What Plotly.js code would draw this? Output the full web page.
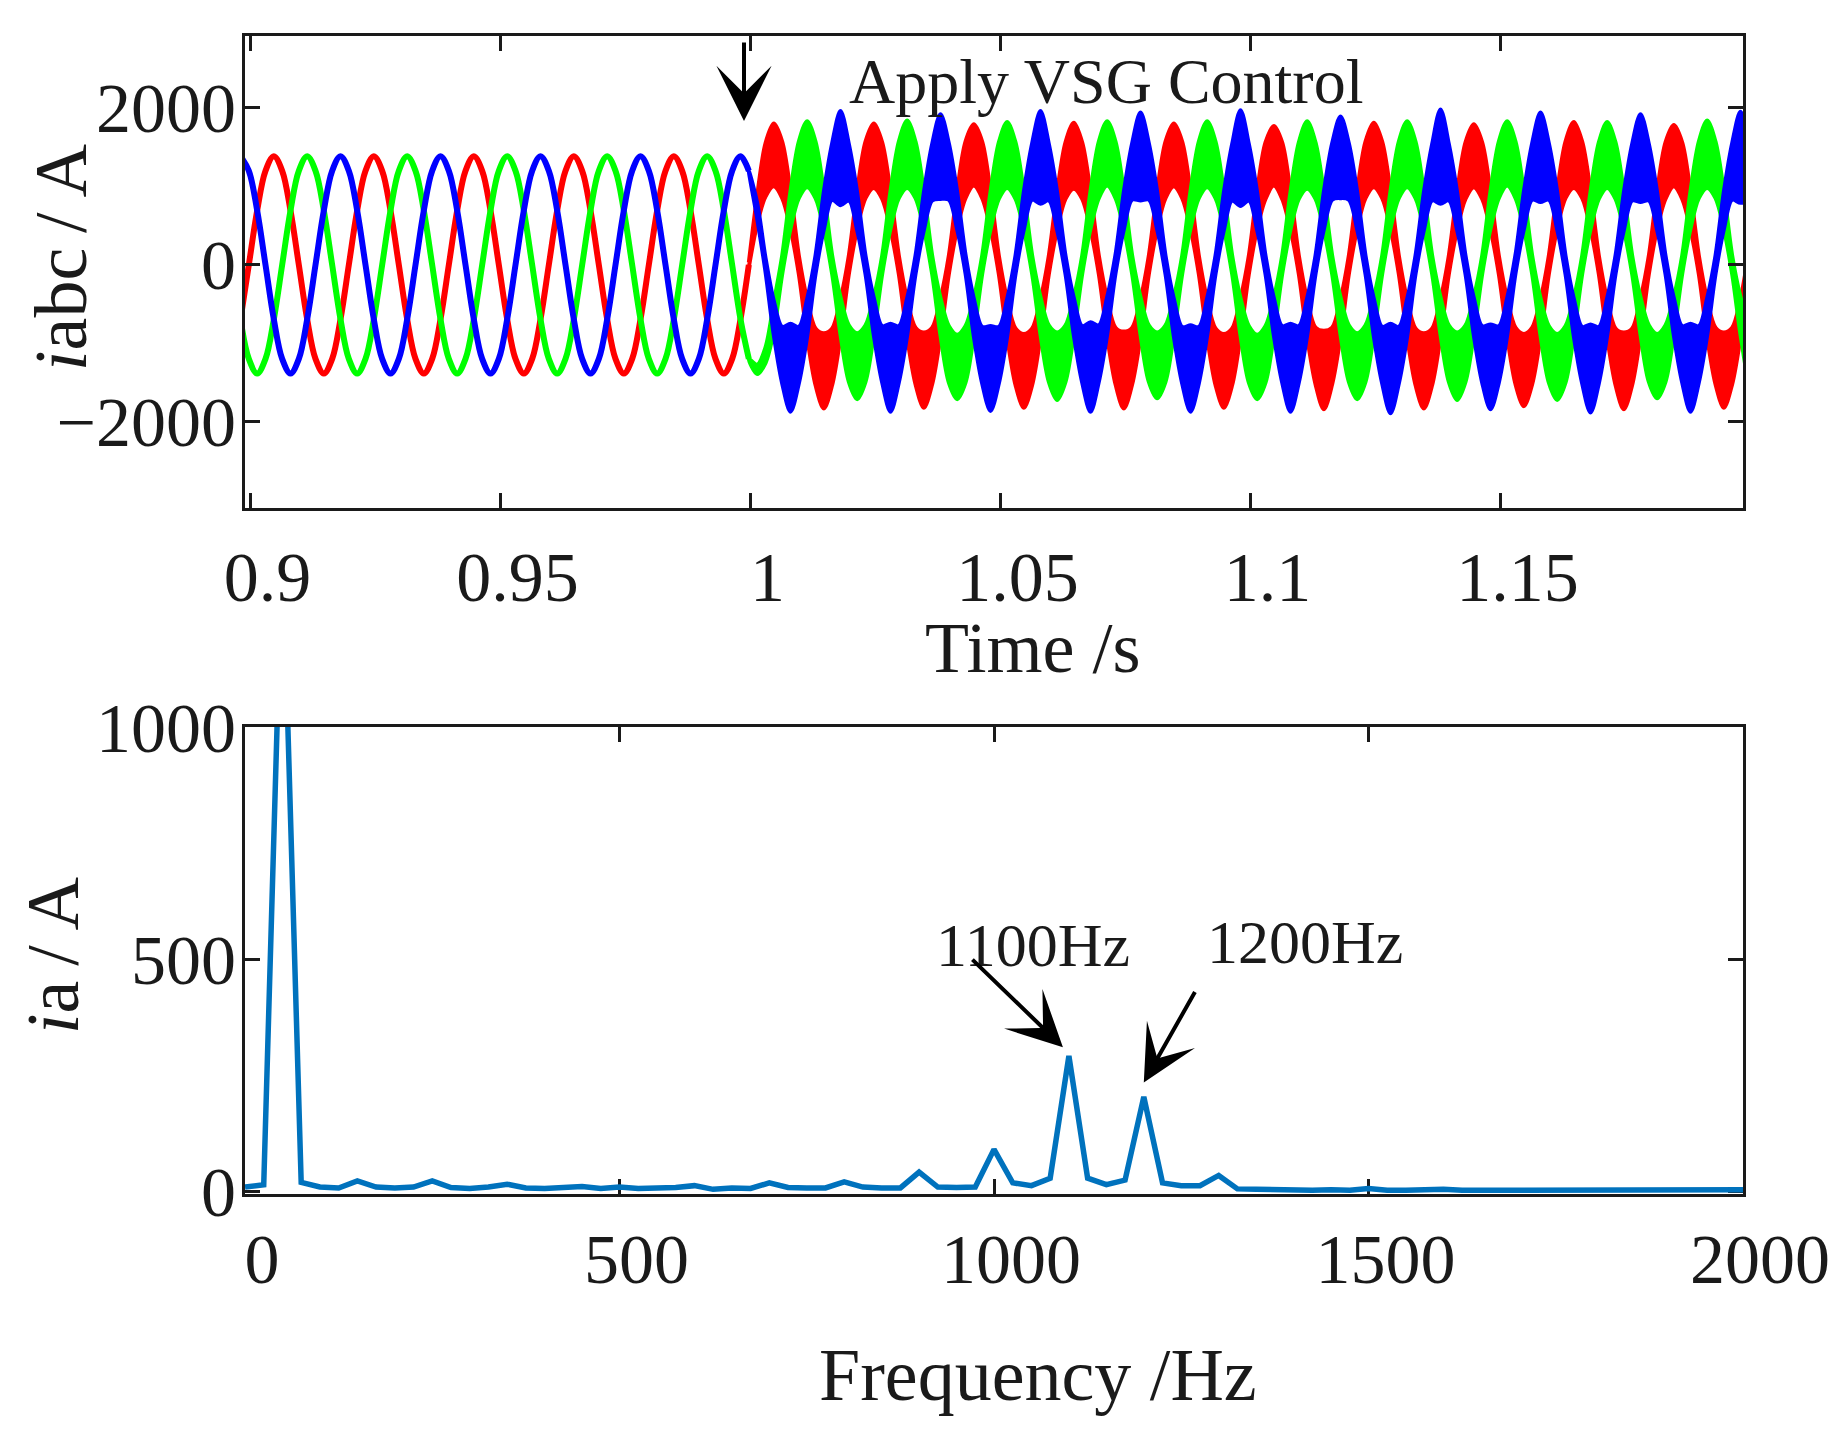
<!DOCTYPE html>
<html>
<head>
<meta charset="utf-8">
<script src="https://cdn.plot.ly/plotly-3.0.1.min.js"></script>
<style>
  html, body { margin: 0; padding: 0; background: #fff; }
  #chart { width: 1846px; height: 1433px; }
</style>
</head>
<body>
<div id="chart"></div>
<script>
// ---- time-domain samples: t = T_START + k * T_STEP (30 deg of 50 Hz per step) ----
const T_START = 0.898;
const T_STEP = 1 / 600;
const PRE_FIRST = 0;    // k index of first pre-control sample
const POST_FIRST = 61;  // k index where VSG control takes over (t ~ 1.0 s)

// before 1.0 s: clean three-phase currents (A)
const redPre = [
  -692, 0, 692, 1198, 1383, 1198, 692, 0, -692, -1198, -1383, -1198,
  -692, 0, 692, 1198, 1383, 1198, 692, 0, -692, -1198, -1383, -1198,
  -692, 0, 692, 1198, 1383, 1198, 692, 0, -692, -1198, -1383, -1198,
  -692, 0, 692, 1198, 1383, 1198, 692, 0, -692, -1198, -1383, -1198,
  -692, 0, 692, 1198, 1383, 1198, 692, 0, -692, -1198, -1383, -1198,
  -692, 0
];
const greenPre = [
  -692, -1198, -1383, -1198, -692, 0, 692, 1198, 1383, 1198, 692, 0,
  -692, -1198, -1383, -1198, -692, 0, 692, 1198, 1383, 1198, 692, 0,
  -692, -1198, -1383, -1198, -692, 0, 692, 1198, 1383, 1198, 692, 0,
  -692, -1198, -1383, -1198, -692, 0, 692, 1198, 1383, 1198, 692, 0,
  -692, -1198, -1383, -1198, -692, 0, 692, 1198, 1383, 1198, 692, 0,
  -692, -1198
];
const bluePre = [
  1383, 1198, 692, 0, -692, -1198, -1383, -1198, -692, 0, 692, 1198,
  1383, 1198, 692, 0, -692, -1198, -1383, -1198, -692, 0, 692, 1198,
  1383, 1198, 692, 0, -692, -1198, -1383, -1198, -692, 0, 692, 1198,
  1383, 1198, 692, 0, -692, -1198, -1383, -1198, -692, 0, 692, 1198,
  1383, 1198, 692, 0, -692, -1198, -1383, -1198, -692, 0, 692, 1198,
  1383, 1198
];

// after 1.0 s: fundamental (centre of the band) and half-height of the switching ripple (A)
const redPost = [
  0, 700, 1210, 1400, 1210, 700, 0, -680, -1170, -1350, -1170,
  -680, 0, 700, 1210, 1390, 1200, 690, 0, -680, -1160, -1340, -1160,
  -670, 0, 700, 1210, 1400, 1210, 700, 0, -680, -1170, -1350, -1170,
  -680, 0, 690, 1200, 1390, 1200, 690, 0, -670, -1160, -1340, -1160,
  -680, 0, 700, 1210, 1400, 1210, 700, 0, -680, -1170, -1350, -1170,
  -670, 0, 700, 1200, 1390, 1200, 690, 0, -680, -1160, -1340, -1160,
  -680, 0, 700, 1210, 1400, 1210, 700, 0, -680, -1170, -1350, -1170,
  -680, 0, 690, 1200, 1390, 1200, 690, 0, -670, -1160, -1340, -1160,
  -680, 0, 700, 1210, 1400, 1210, 700, 0, -680, -1170, -1350, -1170,
  -670, 0, 700, 1200, 1390, 1200, 690, 0, -680, -1160, -1340, -1160,
  -680, 0
];
const redRipple = [
  30, 180, 340, 400, 360, 240, 120, 240, 360, 480, 360,
  240, 120, 240, 360, 410, 360, 240, 120, 240, 360, 480, 360,
  240, 120, 240, 360, 390, 360, 240, 120, 240, 360, 470, 360,
  240, 120, 240, 360, 420, 360, 240, 120, 240, 360, 490, 360,
  240, 120, 240, 360, 400, 360, 240, 120, 240, 360, 470, 360,
  240, 120, 240, 360, 380, 360, 240, 120, 240, 360, 500, 360,
  240, 120, 240, 360, 410, 360, 240, 120, 240, 360, 480, 360,
  240, 120, 240, 360, 400, 360, 240, 120, 240, 360, 460, 360,
  240, 120, 240, 360, 420, 360, 240, 120, 240, 360, 490, 360,
  240, 120, 240, 360, 390, 360, 240, 120, 240, 360, 480, 360,
  240, 120
];
const greenPost = [
  -1198, -1330, -1150, -660, 0, 700, 1210, 1410, 1210, 700, 0,
  -650, -1130, -1290, -1130, -650, 0, 700, 1210, 1410, 1210, 700, 0,
  -660, -1140, -1300, -1140, -660, 0, 690, 1200, 1400, 1200, 690, 0,
  -650, -1130, -1290, -1130, -650, 0, 700, 1210, 1420, 1210, 700, 0,
  -650, -1130, -1280, -1130, -650, 0, 700, 1210, 1410, 1210, 700, 0,
  -660, -1140, -1300, -1140, -660, 0, 690, 1200, 1400, 1200, 690, 0,
  -650, -1130, -1290, -1130, -650, 0, 700, 1210, 1410, 1210, 700, 0,
  -650, -1130, -1290, -1130, -650, 0, 700, 1210, 1420, 1210, 700, 0,
  -660, -1140, -1300, -1140, -660, 0, 690, 1200, 1400, 1200, 690, 0,
  -650, -1130, -1290, -1130, -650, 0, 700, 1210, 1410, 1210, 700, 0,
  -650, -1130
];
const greenRipple = [
  0, 60, 100, 180, 120, 240, 360, 420, 360, 240, 120,
  240, 360, 420, 360, 240, 120, 240, 360, 430, 360, 240, 120,
  240, 360, 410, 360, 240, 120, 240, 360, 420, 360, 240, 120,
  240, 360, 430, 360, 240, 120, 240, 360, 410, 360, 240, 120,
  240, 360, 420, 360, 240, 120, 240, 360, 420, 360, 240, 120,
  240, 360, 410, 360, 240, 120, 240, 360, 430, 360, 240, 120,
  240, 360, 420, 360, 240, 120, 240, 360, 420, 360, 240, 120,
  240, 360, 430, 360, 240, 120, 240, 360, 410, 360, 240, 120,
  240, 360, 420, 360, 240, 120, 240, 360, 420, 360, 240, 120,
  240, 360, 410, 360, 240, 120, 240, 360, 430, 360, 240, 120,
  240, 360
];
const bluePost = [
  1198, 690, 0, -680, -1150, -1310, -1150, -670, 0, 690, 1190,
  1360, 1180, 680, 0, -660, -1140, -1310, -1140, -660, 0, 680, 1180,
  1380, 1190, 690, 10, -670, -1150, -1320, -1150, -670, 0, 690, 1190,
  1370, 1180, 680, 0, -660, -1140, -1300, -1130, -650, 10, 690, 1190,
  1380, 1190, 690, 0, -670, -1150, -1320, -1150, -660, 0, 680, 1180,
  1360, 1180, 680, 0, -660, -1140, -1310, -1140, -660, 0, 690, 1190,
  1370, 1190, 690, 0, -670, -1150, -1320, -1150, -670, 0, 680, 1180,
  1380, 1180, 680, 0, -660, -1140, -1300, -1140, -660, 10, 690, 1190,
  1370, 1190, 690, 0, -670, -1150, -1320, -1150, -660, 0, 680, 1180,
  1360, 1180, 680, 0, -660, -1140, -1310, -1140, -660, 0, 690, 1190,
  1370, 1190
];
const blueRipple = [
  0, 100, 90, 220, 360, 560, 360, 240, 120, 240, 360,
  600, 360, 240, 120, 240, 360, 560, 360, 240, 120, 240, 360,
  540, 360, 240, 120, 240, 360, 540, 360, 240, 120, 240, 360,
  590, 360, 240, 120, 240, 360, 570, 360, 240, 120, 240, 360,
  560, 360, 240, 120, 240, 360, 550, 360, 240, 120, 240, 360,
  610, 360, 240, 120, 240, 360, 560, 360, 240, 120, 240, 360,
  520, 360, 240, 120, 240, 360, 570, 360, 240, 120, 240, 360,
  600, 360, 240, 120, 240, 360, 540, 360, 240, 120, 240, 360,
  570, 360, 240, 120, 240, 360, 560, 360, 240, 120, 240, 360,
  560, 360, 240, 120, 240, 360, 560, 360, 240, 120, 240, 360,
  580, 360
];

const timeTicks = [0.9, 0.95, 1, 1.05, 1.1, 1.15];
const timeTickText = ['0.9', '0.95', '1', '1.05', '1.1', '1.15'];
const currentTicks = [-2000, 0, 2000];

// ---- spectrum of phase a: 25 Hz bins from 0 to 2000 Hz ----
const F_STEP = 25;
const spectrumA = [
  10, 15, 1400, 20, 10, 8, 23, 10, 8, 10,        // 0 - 225
  23, 9, 7, 10, 16, 8, 7, 8, 11, 7,              // 250 - 475
  10, 7, 7, 9, 13, 5, 8, 7, 19, 9,               // 500 - 725
  8, 8, 21, 10, 8, 8, 42, 10, 9, 10,             // 750 - 975
  91, 19, 13, 29, 292, 29, 15, 25, 204, 19,      // 1000 - 1225
  13, 13, 35, 6, 5, 4, 2, 3, 4, 3,               // 1250 - 1475
  7, 3, 3, 4, 5, 3, 3, 2, 3, 2,                  // 1500 - 1725
  3, 2, 3, 2, 3, 2, 3, 2, 3, 3,                  // 1750 - 1975
  4                                              // 2000
];
const freqTicks = [0, 500, 1000, 1500, 2000];
const ampTicks = [0, 500, 1000];

// ---- build traces ----
const timeAt = k => T_START + k * T_STEP;
const tPre = redPre.map((_, i) => timeAt(PRE_FIRST + i));
const tPost = redPost.map((_, i) => timeAt(POST_FIRST + i));
const freqs = spectrumA.map((_, i) => i * F_STEP);

function preTrace(values, color) {
    return {
        x: tPre, y: values, type: 'scatter', mode: 'lines',
        line: { color: color, width: 6, shape: 'spline', smoothing: 1 },
        xaxis: 'x', yaxis: 'y', hoverinfo: 'skip'
    };
}

// ripple band: upper edge forward, lower edge back
function postTrace(center, ripple, color) {
    const hi = center.map((c, i) => c + ripple[i]);
    const lo = center.map((c, i) => c - ripple[i]);
    return {
        x: tPost.concat(tPost.slice().reverse()),
        y: hi.concat(lo.slice().reverse()),
        type: 'scatter', mode: 'lines', fill: 'toself', fillcolor: color,
        line: { color: color, width: 4, shape: 'spline', smoothing: 0.9 },
        xaxis: 'x', yaxis: 'y', hoverinfo: 'skip'
    };
}

const traces = [
    preTrace(redPre, '#ff0000'), postTrace(redPost, redRipple, '#ff0000'),
    preTrace(greenPre, '#00ff00'), postTrace(greenPost, greenRipple, '#00ff00'),
    preTrace(bluePre, '#0000ff'), postTrace(bluePost, blueRipple, '#0000ff'),
    {
        x: freqs, y: spectrumA, type: 'scatter', mode: 'lines',
        line: { color: '#0072bd', width: 5.5 },
        xaxis: 'x2', yaxis: 'y2', hoverinfo: 'skip'
    }
];

// ---- layout (pixel positions measured on the 1846 x 1433 figure) ----
const W = 1846, H = 1433;
const FONT = 'Liberation Serif, Times New Roman, serif';
const INK = '#1a1a1a';
const px = v => v / W;
const py = v => 1 - v / H;

const frame = {
    showline: true, linewidth: 3, linecolor: INK, mirror: 'ticks',
    ticks: 'inside', ticklen: 15, tickwidth: 3, tickcolor: INK,
    showgrid: false, zeroline: false, fixedrange: true,
    tickfont: { family: FONT, size: 70, color: INK }
};

function label(x, y, text, size, extra) {
    return Object.assign({
        xref: 'paper', yref: 'paper', x: px(x), y: py(y), text: text,
        xanchor: 'center', yanchor: 'middle', showarrow: false,
        font: { family: FONT, size: size, color: INK }
    }, extra || {});
}

function pointer(xref, yref, x, y, ax, ay) {
    return {
        xref: xref, yref: yref, x: x, y: y, ax: ax, ay: ay, text: '',
        showarrow: true, arrowhead: 3, arrowsize: 2.3, arrowwidth: 4, arrowcolor: '#000'
    };
}

const layout = {
    width: W, height: H,
    margin: { l: 0, r: 0, t: 0, b: 0 },
    paper_bgcolor: 'white', plot_bgcolor: 'white',
    showlegend: false,
    xaxis: Object.assign({}, frame, {
        domain: [px(245), px(1743)], anchor: 'y', range: [0.8989, 1.1985],
        tickmode: 'array', tickvals: timeTicks, ticktext: timeTickText,
        ticklabelstandoff: 6, ticklabelshift: 17
    }),
    yaxis: Object.assign({}, frame, {
        domain: [py(507.5), py(36)], anchor: 'x', range: [-3090, 2915],
        tickmode: 'array', tickvals: currentTicks, ticklabelstandoff: -8
    }),
    xaxis2: Object.assign({}, frame, {
        domain: [px(245), px(1743)], anchor: 'y2', range: [0, 2000],
        tickmode: 'array', tickvals: freqTicks, layer: 'below traces',
        ticklabelstandoff: 2, ticklabelshift: 17
    }),
    yaxis2: Object.assign({}, frame, {
        domain: [py(1194), py(727)], anchor: 'x2', range: [-5, 1000],
        tickmode: 'array', tickvals: ampTicks, layer: 'below traces',
        ticklabelstandoff: -8
    }),
    annotations: [
        // axis titles
        label(1032, 648, 'Time /s', 72),
        label(1038, 1375, 'Frequency /Hz', 74),
        label(61, 258, '<i>i</i>abc\u2009/\u2009A', 74, { textangle: -90 }),
        label(53, 956, '<i>i</i>a\u2009/\u2009A', 74, { textangle: -90 }),
        // callouts
        label(1106, 82, 'Apply VSG Control', 64),
        pointer('x', 'y', 0.9987, 1833, 0, -80),
        label(1033, 945, '1100Hz', 62),
        label(1305, 942, '1200Hz', 62),
        pointer('x2', 'y2', 1092, 311, -92, -89),
        pointer('x2', 'y2', 1200, 235, 52, -92)
    ]
};

Plotly.newPlot('chart', traces, layout, { displayModeBar: false, staticPlot: true });
</script>
</body>
</html>
